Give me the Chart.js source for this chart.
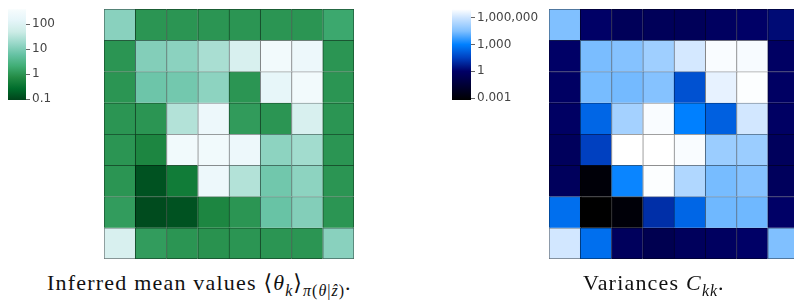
<!DOCTYPE html>
<html>
<head>
<meta charset="utf-8">
<script src="https://cdn.jsdelivr.net/npm/chart.js@4.4.0/dist/chart.umd.min.js"></script>
<style>
  body { margin: 0; width: 794px; height: 301px; overflow: hidden; background: #fff; position: relative; }
  canvas { position: absolute; }
  .cap { position: absolute; font-family: "Liberation Serif", "DejaVu Serif", serif; font-size: 22px; line-height: 22px; letter-spacing: 1.2px; color: #111; white-space: nowrap; }
  .cap sub { font-size: 16px; line-height: 0; vertical-align: -6px; letter-spacing: 1px; }
</style>
</head>
<body>
<canvas id="cbMean" width="80" height="110" style="left:0;top:0"></canvas>
<canvas id="hmMean" width="250" height="250" style="left:104px;top:9px"></canvas>
<canvas id="cbVar" width="116" height="110" style="left:444px;top:0"></canvas>
<canvas id="hmVar" width="250" height="250" style="left:549px;top:9px"></canvas>
<div class="cap" style="left:47px;top:272px">Inferred mean values ⟨<i>θ</i><sub><i>k</i></sub>⟩<sub><i>π</i>(<i>θ</i>|<i>ẑ</i>)</sub>.</div>
<div class="cap" style="left:583px;top:272px">Variances <i>C</i><sub><i>kk</i></sub>.</div>
<script>
// 8x8 grid, rows top -> bottom, columns left -> right
const cols = ['1', '2', '3', '4', '5', '6', '7', '8'];

// inferred mean values
const meanValues = [
  [12.6, 1, 1, 1, 1, 1, 1, 1.8],
  [1, 11, 13, 24, 83, 300, 230, 1],
  [1, 7, 8, 13.5, 1, 160, 300, 1],
  [1, 1, 30, 230, 1.2, 1, 83, 1],
  [1, 0.63, 280, 280, 230, 13.5, 21, 1],
  [1, 0.13, 0.44, 230, 30, 7.6, 13.5, 1],
  [1.25, 0.11, 0.13, 0.63, 1, 6.3, 11, 1],
  [83, 1.25, 1, 0.93, 1, 1, 1, 12.6]
];

// variances C_kk
const varValues = [
  [3.2e4, 1, 0.4, 0.4, 0.4, 0.63, 1, 1.8],
  [1, 2.7e4, 4e4, 1.3e5, 1.4e6, 7e6, 6.3e6, 0.8],
  [0.8, 2.5e4, 2.3e4, 4e4, 80, 3.2e6, 8e6, 0.8],
  [0.8, 250, 1.6e5, 7e6, 1000, 180, 1.3e6, 0.8],
  [0.5, 32, 1e7, 1e7, 7e6, 1.1e5, 1.1e5, 0.5],
  [0.5, 0.0011, 1300, 8e6, 2.8e5, 2.5e4, 4e4, 0.5],
  [400, 0.0006, 0.0011, 12.6, 250, 2e4, 2e4, 1],
  [1.3e6, 400, 0.5, 0.2, 0.5, 0.63, 1, 3.2e4]
];

// colour bar ticks
const meanTicks = [0.1, 1, 10, 100];
const meanTickLabels = ['0.1', '1', '10', '100'];
const varTicks = [0.001, 1, 1000, 1000000];
const varTickLabels = ['0.001', '1', '1,000', '1,000,000'];

// colour maps, as [log10 value, colour]
const meanRange = [-1.04, 2.61];
const meanColors = ['#00441b', '#006d2c', '#238b45', '#41ae76', '#66c2a4', '#99d8c9', '#ccece6', '#e5f5f9', '#f7fcfd'];
const meanStops = meanColors.map((c, i) => [meanRange[0] + i * (meanRange[1] - meanRange[0]) / 8, c]);
const varRange = [-3.22, 6.95];
const varStops = [[-3.22, '#000000'], [0, '#000066'], [1.5, '#0040c0'], [3, '#0080ff'], [4.5, '#80c0ff'], [6, '#cce4ff'], [6.95, '#ffffff']];

function hexRgb(h) {
  return [1, 3, 5].map(i => parseInt(h.slice(i, i + 2), 16));
}

function colorAt(lv, stops) {
  if (lv <= stops[0][0]) return hexRgb(stops[0][1]);
  for (let i = 1; i < stops.length; i++) {
    if (lv <= stops[i][0]) {
      const t = (lv - stops[i - 1][0]) / (stops[i][0] - stops[i - 1][0]);
      const a = hexRgb(stops[i - 1][1]), b = hexRgb(stops[i][1]);
      return a.map((x, k) => Math.round(x + (b[k] - x) * t));
    }
  }
  return hexRgb(stops[stops.length - 1][1]);
}

const rgb = c => `rgb(${c[0]},${c[1]},${c[2]})`;

function heatmap(id, values, stops) {
  const n = values.length;
  const datasets = values.map((row, r) => {
    const cells = row.map(v => colorAt(Math.log10(v), stops));
    return {
      data: row.map(() => 1),
      backgroundColor: cells.map(rgb),
      borderColor: cells.map(c => rgb(c.map(x => Math.round(x * 0.5)))),
      borderWidth: ctx => ({ top: 1, left: 1, right: ctx.dataIndex === cols.length - 1 ? 1 : 0, bottom: r === n - 1 ? 1 : 0 }),
      borderSkipped: false,
      barPercentage: 1,
      categoryPercentage: 1,
      stack: 'grid'
    };
  });
  new Chart(document.getElementById(id), {
    type: 'bar',
    data: { labels: cols, datasets },
    options: {
      responsive: false,
      animation: false,
      layout: { padding: 0 },
      plugins: { legend: { display: false }, tooltip: { enabled: false } },
      scales: {
        x: { display: false, stacked: true },
        y: { display: false, stacked: true, reverse: true, min: 0, max: n }
      }
    }
  });
}

function colorbar(id, stops, range, ticks, labels, axisWidth) {
  const [lo, hi] = range;
  new Chart(document.getElementById(id), {
    type: 'bar',
    data: {
      labels: [''],
      datasets: [{
        data: [[10 ** lo, 10 ** hi]],
        backgroundColor: ctx => {
          const a = ctx.chart.chartArea;
          if (!a) return '#fff';
          const g = ctx.chart.ctx.createLinearGradient(0, a.bottom, 0, a.top);
          stops.forEach(([v, c]) => g.addColorStop(Math.min(1, Math.max(0, (v - lo) / (hi - lo))), c));
          return g;
        },
        borderWidth: 0,
        barPercentage: 1,
        categoryPercentage: 1
      }]
    },
    options: {
      responsive: false,
      animation: false,
      layout: { padding: { left: 8, top: 4, bottom: 10, right: 0 } },
      plugins: { legend: { display: false }, tooltip: { enabled: false } },
      scales: {
        x: { display: false },
        y: {
          type: 'logarithmic',
          position: 'right',
          min: 10 ** lo,
          max: 10 ** hi,
          afterBuildTicks: s => { s.ticks = ticks.map(v => ({ value: v })); },
          afterFit: s => { s.width = axisWidth; },
          ticks: {
            autoSkip: false,
            callback: (v, i) => labels[i],
            font: { family: 'DejaVu Sans', size: 12 },
            color: '#444',
            padding: 2
          },
          grid: { drawOnChartArea: false, tickLength: 4, color: '#666' },
          border: { display: false }
        }
      }
    }
  });
}

colorbar('cbMean', meanStops, meanRange, meanTicks, meanTickLabels, 54);
heatmap('hmMean', meanValues, meanStops);
colorbar('cbVar', varStops, varRange, varTicks, varTickLabels, 89);
heatmap('hmVar', varValues, varStops);
</script>
</body>
</html>
